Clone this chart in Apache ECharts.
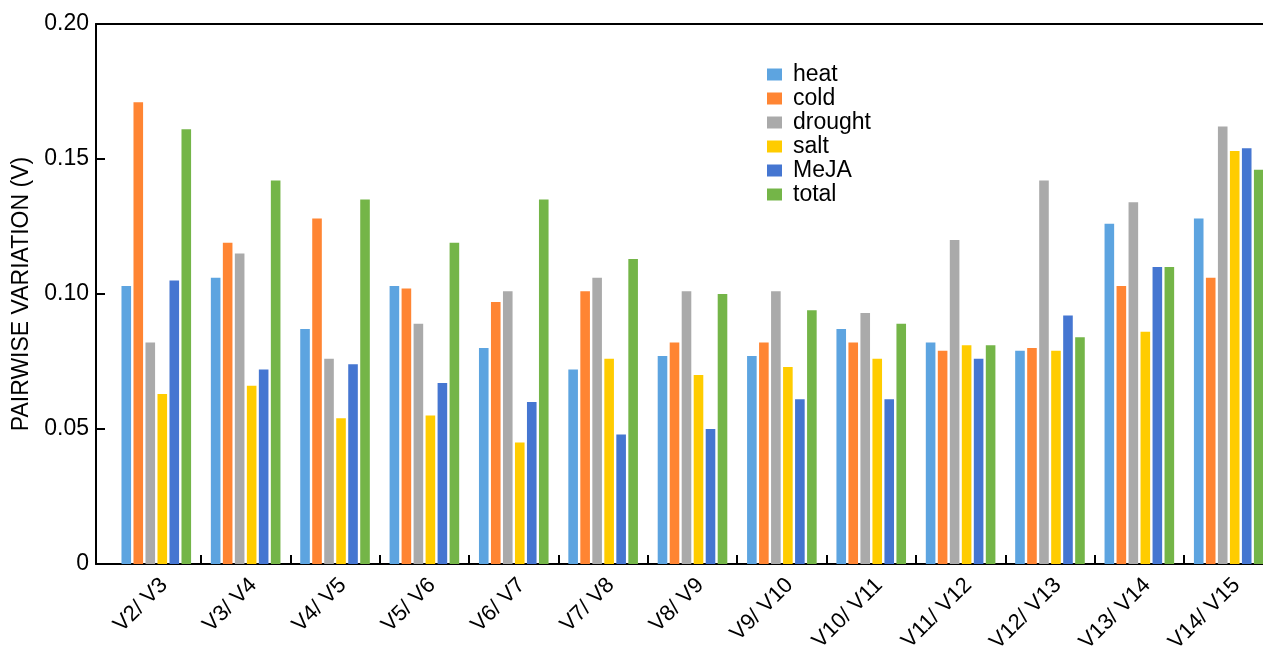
<!DOCTYPE html>
<html>
<head>
<meta charset="utf-8">
<title>Pairwise variation</title>
<script src="https://cdn.jsdelivr.net/npm/echarts@6/dist/echarts.min.js"></script>
<style>
  html, body { margin: 0; padding: 0; background: #fff; }
  #chart { width: 1263px; height: 651px; }
</style>
</head>
<body>
<div id="chart"></div>
<script>
// Pairwise variation (V) of candidate reference genes under each treatment
const categories = ['V2/ V3', 'V3/ V4', 'V4/ V5', 'V5/ V6', 'V6/ V7', 'V7/ V8', 'V8/ V9',
  'V9/ V10', 'V10/ V11', 'V11/ V12', 'V12/ V13', 'V13/ V14', 'V14/ V15'];

const heat    = [0.103, 0.106, 0.087, 0.103, 0.080, 0.072, 0.077, 0.077, 0.087, 0.082, 0.079, 0.126, 0.128];
const cold    = [0.171, 0.119, 0.128, 0.102, 0.097, 0.101, 0.082, 0.082, 0.082, 0.079, 0.080, 0.103, 0.106];
const drought = [0.082, 0.115, 0.076, 0.089, 0.101, 0.106, 0.101, 0.101, 0.093, 0.120, 0.142, 0.134, 0.162];
const salt    = [0.063, 0.066, 0.054, 0.055, 0.045, 0.076, 0.070, 0.073, 0.076, 0.081, 0.079, 0.086, 0.153];
const meja    = [0.105, 0.072, 0.074, 0.067, 0.060, 0.048, 0.050, 0.061, 0.061, 0.076, 0.092, 0.110, 0.154];
const total   = [0.161, 0.142, 0.135, 0.119, 0.135, 0.113, 0.100, 0.094, 0.089, 0.081, 0.084, 0.110, 0.146];

const yTicks = [0, 0.05, 0.10, 0.15, 0.20];

const seriesDefs = [
  { name: 'heat',    data: heat,    color: '#5DA4E0' },
  { name: 'cold',    data: cold,    color: '#FF8533' },
  { name: 'drought', data: drought, color: '#AAAAAA' },
  { name: 'salt',    data: salt,    color: '#FFCC00' },
  { name: 'MeJA',    data: meja,    color: '#4576D1' },
  { name: 'total',   data: total,   color: '#74B548' }
];

const FONT = 'Liberation Sans, Arial, sans-serif';
const black = '#000';

const chart = echarts.init(document.getElementById('chart'), null, { renderer: 'canvas' });

const option = {
  backgroundColor: '#fff',
  animation: false,
  textStyle: { fontFamily: FONT, color: black },
  legend: {
    orient: 'vertical',
    left: 762,
    top: 58,
    itemWidth: 15,
    itemHeight: 12,
    itemGap: 1,
    icon: 'rect',
    textStyle: { fontFamily: FONT, fontSize: 23, color: black, padding: [0, 0, 0, 6] },
    data: seriesDefs.map(s => s.name)
  },
  grid: [
    // frame: y axis, bottom and top lines
    { left: 96, top: 24, width: 1180, height: 540, outerBoundsMode: 'none', containLabel: false },
    // bars
    { left: 111.6, top: 24, width: 1161.8, height: 540, outerBoundsMode: 'none', containLabel: false }
  ],
  xAxis: [
    {
      gridIndex: 0, type: 'value', min: 0, max: 1, position: 'bottom',
      axisLine: { show: true, lineStyle: { color: black, width: 2 } },
      axisTick: { show: false }, axisLabel: { show: false }, splitLine: { show: false }
    },
    {
      gridIndex: 0, type: 'value', min: 0, max: 1, position: 'top',
      axisLine: { show: true, lineStyle: { color: black, width: 2 } },
      axisTick: { show: false }, axisLabel: { show: false }, splitLine: { show: false }
    },
    {
      gridIndex: 1, type: 'category', data: categories, position: 'bottom',
      axisLine: { show: false },
      axisTick: {
        show: true, inside: true, length: 9,
        interval: (i) => i > 0,
        lineStyle: { color: black, width: 2 }
      },
      axisLabel: {
        rotate: 45, margin: 10, fontSize: 22, color: black, fontFamily: FONT, interval: 0,
        verticalAlign: 'top'
      },
      splitLine: { show: false }
    }
  ],
  yAxis: [
    {
      gridIndex: 0, type: 'value', min: yTicks[0], max: yTicks[yTicks.length - 1], interval: 0.05,
      name: 'PAIRWISE VARIATION (V)',
      nameLocation: 'middle',
      nameGap: 62,
      nameTextStyle: { fontSize: 23, color: black, fontFamily: FONT },
      axisLine: { show: true, lineStyle: { color: black, width: 2 } },
      axisTick: { show: true, inside: true, length: 9, lineStyle: { color: black, width: 2 } },
      axisLabel: {
        fontSize: 23, color: black, fontFamily: FONT, margin: 7,
        formatter: v => (v === 0 ? '0' : v.toFixed(2))
      },
      splitLine: { show: false }
    },
    {
      gridIndex: 1, type: 'value', min: yTicks[0], max: yTicks[yTicks.length - 1], show: false
    }
  ],
  series: seriesDefs.map(s => ({
    name: s.name,
    type: 'bar',
    xAxisIndex: 2,
    yAxisIndex: 1,
    data: s.data,
    barWidth: 9.6,
    barGap: '25%',
    itemStyle: { color: s.color }
  }))
};

chart.setOption(option);
</script>
</body>
</html>
